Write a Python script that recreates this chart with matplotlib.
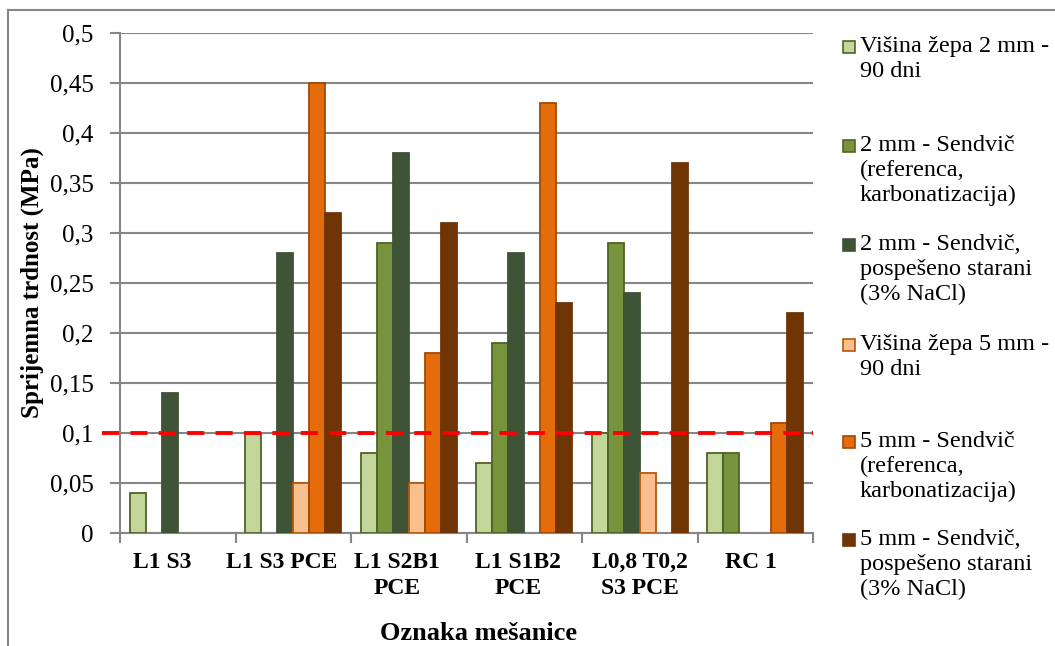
import matplotlib
matplotlib.use("Agg")
import matplotlib.pyplot as plt
import numpy as np
from matplotlib.lines import Line2D
from matplotlib.patches import Rectangle
from matplotlib.transforms import ScaledTranslation

plt.rcParams['font.family'] = ['Liberation Serif', 'DejaVu Serif']

categories = ["L1 S3", "L1 S3 PCE", "L1 S2B1\nPCE", "L1 S1B2\nPCE",
              "L0,8 T0,2\nS3 PCE", "RC 1"]
series_labels = [
    "Višina žepa 2 mm -\n90 dni",
    "2 mm - Sendvič\n(referenca,\nkarbonatizacija)",
    "2 mm - Sendvič,\npospešeno starani\n(3% NaCl)",
    "Višina žepa 5 mm -\n90 dni",
    "5 mm - Sendvič\n(referenca,\nkarbonatizacija)",
    "5 mm - Sendvič,\npospešeno starani\n(3% NaCl)",
]
# None = no measurement (no bar drawn)
h2_90 = [0.04, 0.10, 0.08, 0.07, 0.10, 0.08]
h2_ref = [None, None, 0.29, 0.19, 0.29, 0.08]
h2_nacl = [0.14, 0.28, 0.38, 0.28, 0.24, None]
h5_90 = [None, 0.05, 0.05, None, 0.06, None]
h5_ref = [None, 0.45, 0.18, 0.43, None, 0.11]
h5_nacl = [None, 0.32, 0.31, 0.23, 0.37, 0.22]
limit = 0.1
yticks = [0, 0.05, 0.1, 0.15, 0.2, 0.25, 0.3, 0.35, 0.4, 0.45, 0.5]

series = [h2_90, h2_ref, h2_nacl, h5_90, h5_ref, h5_nacl]
faces = ["#C4D79B", "#77933C", "#3F5436", "#FABF8F", "#E46C0A", "#6F3505"]
edges = ["#4F6228", "#4F6228", "#3F5436", "#B65708", "#A04A08", "#6F3505"]

fig = plt.figure(figsize=(10.55, 6.46), dpi=100)
ax = fig.add_axes([120 / 1055, 1 - 533 / 646, (813 - 120) / 1055, 500 / 646])

x = np.arange(len(categories))
w = 0.138
for j, vals in enumerate(series):
    v = np.array([np.nan if a is None else a for a in vals], dtype=float)
    ax.bar(x + (j - 2.5) * w, v, width=w, color=faces[j],
           edgecolor=edges[j], linewidth=1.3, zorder=3)

ax.set_xlim(-0.5, len(categories) - 0.5)
ax.set_ylim(0, 0.5)
ax.set_yticks(yticks)
ax.set_yticklabels([("%g" % t).replace(".", ",") for t in yticks], fontsize=18)
ax.yaxis.grid(True, color="#868686", linewidth=1.5, zorder=0)
ax.set_axisbelow(True)

ax.set_xticks(np.arange(-0.5, len(categories)), minor=False)
ax.set_xticklabels([])
ax.set_xticks(x, minor=True)
ax.set_xticklabels(categories, minor=True, fontsize=17, fontweight="bold",
                   linespacing=1.27)
ax.tick_params(axis="x", which="minor", length=0, pad=14)
ax.tick_params(axis="x", which="major", length=7, width=1.5, color="#868686")
ax.tick_params(axis="y", length=7, width=1.5, color="#868686", pad=12)

# category labels sit a little left of centre in the original
label_shift = [-16, -12, -12, -6, 0, -4]
for lbl, dx in zip(ax.get_xticklabels(minor=True), label_shift):
    lbl.set_transform(lbl.get_transform() +
                      ScaledTranslation(dx / 100, 0, fig.dpi_scale_trans))

for s in ["top", "right"]:
    ax.spines[s].set_visible(False)
for s in ["left", "bottom"]:
    ax.spines[s].set_color("#868686")
    ax.spines[s].set_linewidth(1.5)

ax.plot([-0.656, len(categories) - 0.5], [limit, limit], color="#FF0000",
        linewidth=2.8, dashes=(4.4, 2.9), clip_on=False, zorder=5)

ax.set_ylabel("Sprijemna trdnost (MPa)", fontsize=18, fontweight="bold",
              labelpad=4)
fig.text(479 / 1055, 1 - 633 / 646, "Oznaka mešanice", fontsize=19,
         fontweight="bold", ha="center", va="center")

# legend drawn by hand
first_line_y = [47, 146, 245, 345, 442, 540]
for i, lab in enumerate(series_labels):
    yc = 1 - first_line_y[i] / 646
    fig.patches.append(Rectangle((843 / 1055, yc - 6 / 646), 12 / 1055, 12 / 646,
                                 transform=fig.transFigure, facecolor=faces[i],
                                 edgecolor=edges[i], linewidth=1.2))
    fig.text(860 / 1055, yc + 11 / 646, lab, fontsize=17.5, ha="left", va="top",
             linespacing=1.25)

# outer border (left and top visible)
fig.add_artist(Line2D([8 / 1055, 8 / 1055], [0, 1 - 10 / 646],
                      transform=fig.transFigure, color="#868686", linewidth=1.5))
fig.add_artist(Line2D([8 / 1055, 1], [1 - 10 / 646, 1 - 10 / 646],
                      transform=fig.transFigure, color="#868686", linewidth=1.5))

fig.savefig("out.png", dpi=100)
